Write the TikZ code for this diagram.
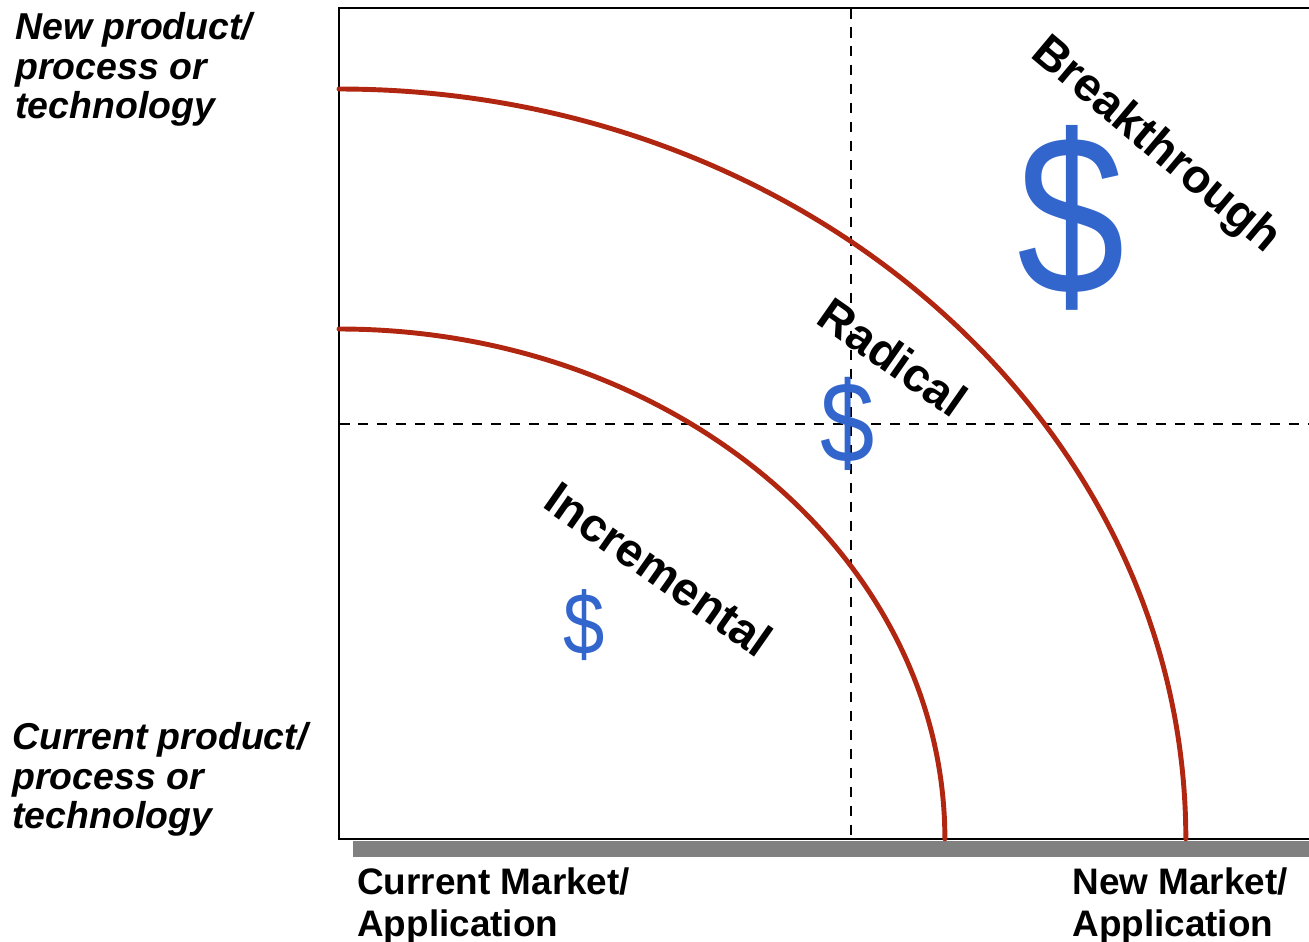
\documentclass[tikz,border=0pt]{standalone}
\usepackage{graphicx}
\usepackage{fontspec}
\setmainfont{Liberation Sans}
\definecolor{arcred}{RGB}{176,38,16}
\definecolor{dollarblue}{RGB}{51,102,204}

\begin{document}
\begin{tikzpicture}[x=0.02cm,y=-0.02cm,
  axislabel/.style={inner sep=0pt, anchor=north west, align=left, font=\bfseries\fontsize{21}{24}\selectfont},
  sidelabel/.style={inner sep=0pt, anchor=north west, align=left, font=\bfseries\itshape\fontsize{21.3}{22.5}\selectfont},
  zonelabel/.style={inner sep=0pt, font=\bfseries\fontsize{26.8}{30}\selectfont},
  money/.style={inner sep=0pt, text=dollarblue, font=\fontsize{#1}{#1}\selectfont},
  guide/.style={draw, line width=1.1pt, dash pattern=on 0.21cm off 0.17cm},
  curve/.style={draw=arcred, line width=2.8pt, line cap=round}]
\useasboundingbox (0,0) rectangle (1309,941);

\coordinate (tl) at (339,8);
\coordinate (bl) at (339,839);
\coordinate (tr) at (1309,8);
\coordinate (br) at (1309,839);

% axis bar and frame
\fill[gray] (353,841) rectangle (1309,857);
\path[draw,line width=1.4pt] (tr) -- (tl) -- (bl) -- (br);

% quadrant guides
\coordinate (vtop) at (851,8);
\coordinate (vbot) at (851,839);
\coordinate (hleft) at (339,424);
\coordinate (hright) at (1309,424);
\path[guide] (vtop) -- (vbot);
\path[guide] (hleft) -- (hright);

% innovation bands
\coordinate (outerstart) at (339,89);
\coordinate (innerstart) at (339,329);
\path[curve] (outerstart) arc[start angle=90, end angle=0, x radius=16.94cm, y radius=15cm];
\path[curve] (innerstart) arc[start angle=90, end angle=0, x radius=12.12cm, y radius=10.2cm];

\node[sidelabel] (newprod) at (15,12) {New product/\\process or\\technology};
\node[sidelabel] (curprod) at (12,722) {Current product/\\process or\\technology};
\node[axislabel] (curmkt) at (357,867) {Current Market/\\Application};
\node[axislabel] (newmkt) at (1072,867) {New Market/\\Application};

\node[zonelabel, rotate=-40] (breakthrough) at (1155,146) {Breakthrough};
\node[zonelabel, rotate=-35] (radical) at (893,357) {Radical};
\node[zonelabel, rotate=-35] (incremental) at (659,569) {Incremental};

\node[money=125] (bigdollar) at (1071,218) {\scalebox{0.88}[1.04]{\$}};
\node[money=63] (middollar) at (848,424) {\scalebox{0.88}[1.04]{\$}};
\node[money=48] (smalldollar) at (584,625) {\scalebox{0.88}[1.04]{\$}};
\end{tikzpicture}
\end{document}
